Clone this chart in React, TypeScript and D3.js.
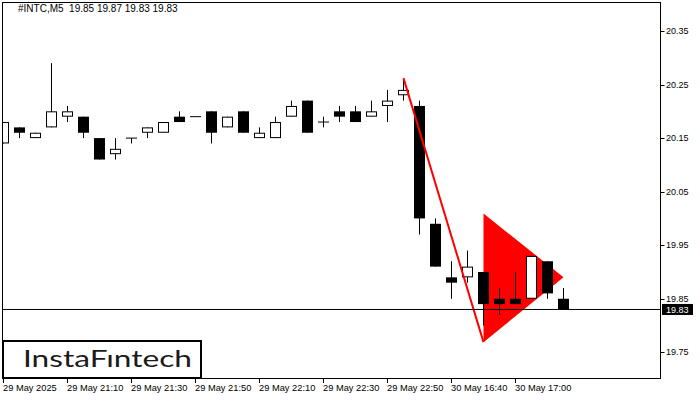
import React from 'react';
import * as d3 from 'd3';

// M5 candles, INTC
const opens = [20.14, 20.17, 20.15, 20.17, 20.19, 20.19, 20.15, 20.12, 20.15, 20.16, 20.16, 20.19, 20.19, 20.20, 20.17, 20.20, 20.15, 20.15, 20.19, 20.22, 20.18, 20.20, 20.20, 20.19, 20.21, 20.23, 20.21, 19.99, 19.89, 19.89, 19.90, 19.85, 19.85, 19.85, 19.92, 19.85];
const highs = [20.18, 20.17, 20.16, 20.29, 20.21, 20.19, 20.15, 20.15, 20.15, 20.17, 20.18, 20.20, 20.19, 20.20, 20.19, 20.20, 20.17, 20.19, 20.22, 20.22, 20.19, 20.21, 20.21, 20.22, 20.24, 20.26, 20.22, 20.00, 19.92, 19.94, 19.90, 19.87, 19.90, 19.93, 19.92, 19.87];
const lows = [20.14, 20.15, 20.15, 20.17, 20.18, 20.15, 20.11, 20.11, 20.14, 20.15, 20.16, 20.18, 20.19, 20.14, 20.17, 20.16, 20.15, 20.15, 20.19, 20.16, 20.17, 20.18, 20.18, 20.19, 20.18, 20.22, 19.97, 19.91, 19.85, 19.88, 19.80, 19.82, 19.84, 19.85, 19.85, 19.83];
const closes = [20.18, 20.16, 20.16, 20.20, 20.20, 20.16, 20.11, 20.13, 20.15, 20.17, 20.18, 20.18, 20.19, 20.16, 20.19, 20.16, 20.16, 20.18, 20.21, 20.16, 20.18, 20.19, 20.18, 20.20, 20.22, 20.24, 20.00, 19.91, 19.88, 19.91, 19.84, 19.84, 19.84, 19.93, 19.86, 19.83];

const priceTicks = [20.35, 20.25, 20.15, 20.05, 19.95, 19.85, 19.75];
const timeTickIdx = [0, 4, 8, 12, 16, 20, 24, 28, 32];
const timeTickLabels = ['29 May 2025', '29 May 21:10', '29 May 21:30', '29 May 21:50', '29 May 22:10', '29 May 22:30', '29 May 22:50', '30 May 16:40', '30 May 17:00'];

// bearish pennant: pole and triangle (bar index, price)
const poleIdx = [25, 30];
const polePrice = [20.262, 19.769];
const pennantIdx = [30, 30, 35];
const pennantPrice = [19.769, 20.009, 19.89];

const lastPrice = 19.83;
const title = '#INTC,M5  19.85 19.87 19.83 19.83';

const W = 700;
const H = 400;
const plot = { left: 2, top: 2, right: 660, bottom: 378 };
const axisFont = "'Liberation Sans', Arial, sans-serif";

export default function App() {
  const x = d3.scaleLinear().domain([0, 1]).range([3.5, 19.5]);
  const y = d3.scaleLinear().domain([19.75, 20.35]).range([352.3, 31]);
  const bodyW = 11;

  const line = d3.line<number>()
    .x((d) => x(poleIdx[d]))
    .y((d) => y(polePrice[d]));

  const tri = pennantIdx.map((d, i) => `${x(d)},${y(pennantPrice[i])}`).join(' ');

  return (
    <svg width={W} height={H} style={{ position: 'absolute', left: 0, top: 0, background: '#fff' }}>
      <defs>
        <clipPath id="plotClip">
          <rect x={plot.left} y={plot.top} width={plot.right - plot.left} height={plot.bottom - plot.top} />
        </clipPath>
      </defs>
      <rect width={W} height={H} fill="#fff" />

      <g clipPath="url(#plotClip)">
        <polygon points={tri} fill="#ff0000" />
        {opens.map((o, i) => {
          const c = closes[i];
          const cx = x(i);
          const top = y(Math.max(o, c));
          const bot = y(Math.min(o, c));
          return (
            <g key={i}>
              <line x1={cx} x2={cx} y1={y(highs[i])} y2={y(lows[i])} stroke="#000" strokeWidth={1} />
              {o === c ? (
                <line x1={cx - bodyW / 2} x2={cx + bodyW / 2} y1={top} y2={top} stroke="#000" strokeWidth={1} />
              ) : c < o ? (
                <rect x={cx - bodyW / 2} y={top} width={bodyW} height={bot - top} fill="#000" />
              ) : (
                <rect x={cx - bodyW / 2 + 0.5} y={top + 0.5} width={bodyW - 1} height={bot - top - 1} fill="#fff" stroke="#000" strokeWidth={1} />
              )}
            </g>
          );
        })}
        <path d={line([0, 1]) || ''} fill="none" stroke="#ff0000" strokeWidth={2} />
        <line x1={plot.left} x2={plot.right} y1={y(lastPrice)} y2={y(lastPrice)} stroke="#000" strokeWidth={1} />
      </g>

      <rect x={plot.left + 0.5} y={plot.top + 0.5} width={plot.right - plot.left} height={plot.bottom - plot.top} fill="none" stroke="#000" strokeWidth={1} />

      <text x={18} y={12} fontFamily={axisFont} fontSize={10} fill="#000" style={{ whiteSpace: 'pre' }}>{title}</text>

      {priceTicks.map((p) => (
        <g key={p}>
          <line x1={plot.right + 0.5} x2={plot.right + 4.5} y1={Math.round(y(p)) + 0.5} y2={Math.round(y(p)) + 0.5} stroke="#000" />
          <text x={666} y={y(p)} dy="0.35em" fontFamily={axisFont} fontSize={9} fill="#000">{p.toFixed(2)}</text>
        </g>
      ))}

      <rect x={662} y={y(lastPrice) - 5.5} width={31} height={11} fill="#000" />
      <text x={666} y={y(lastPrice)} dy="0.35em" fontFamily={axisFont} fontSize={9} fill="#fff">{lastPrice.toFixed(2)}</text>

      {timeTickIdx.map((t, i) => (
        <g key={t}>
          <line x1={x(t)} x2={x(t)} y1={plot.bottom} y2={plot.bottom + 5} stroke="#000" />
          <text x={x(t) - 0.5} y={391} fontFamily={axisFont} fontSize={9.3} fill="#000">{timeTickLabels[i]}</text>
        </g>
      ))}

      <rect x={3} y={341} width={198} height={37} fill="#fff" stroke="#000" strokeWidth={2} />
      <text x={23} y={366.5} fontFamily="Lato, 'Open Sans', sans-serif" fontSize={23} fontWeight={400} fill="#1a1a1a" textLength={169} lengthAdjust="spacingAndGlyphs">InstaFıntech</text>
    </svg>
  );
}
